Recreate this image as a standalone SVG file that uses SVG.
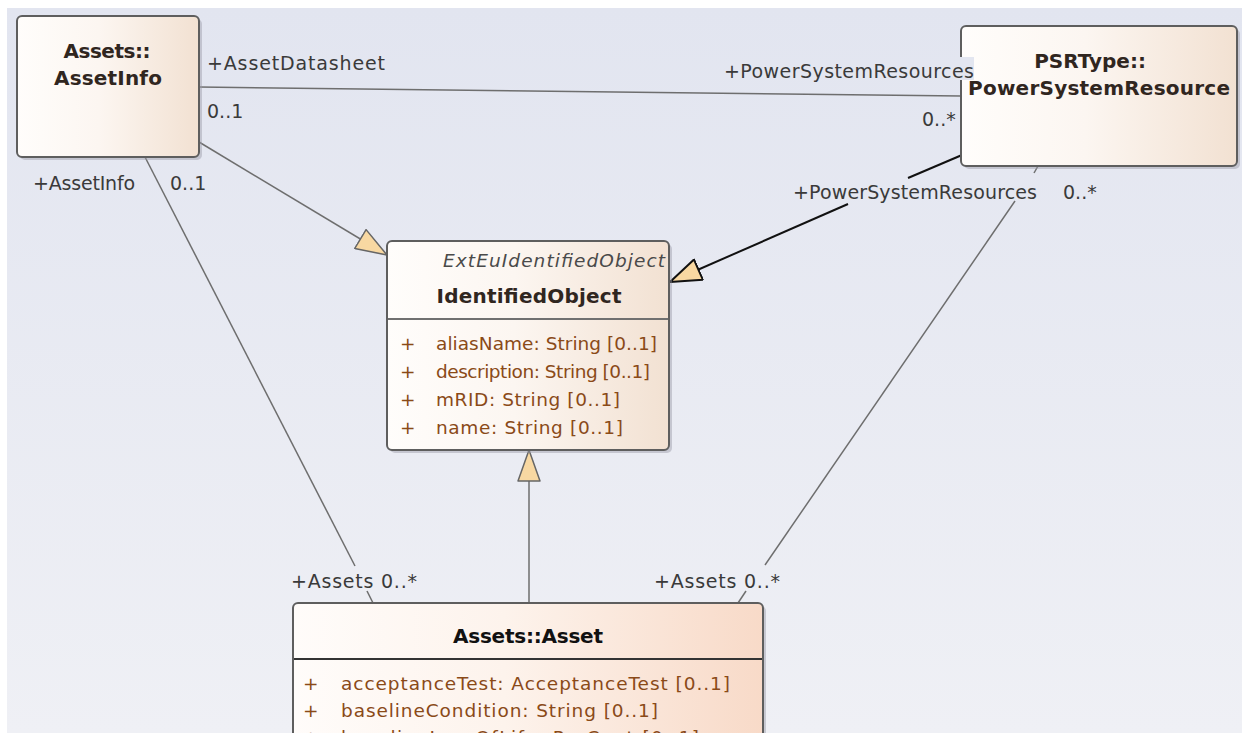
<svg xmlns="http://www.w3.org/2000/svg" width="1242" height="733" viewBox="0 0 1242 733">
  <style>
    .title { font-family: "DejaVu Sans", "Noto Sans", sans-serif; font-weight: bold; font-size: 20px; fill: #30261f; text-anchor: middle; }
    .attr { font-family: "DejaVu Sans", "Noto Sans", sans-serif; font-size: 18.5px; fill: #8a4a18; }
    .lbl { font-family: "DejaVu Sans", "Noto Sans", sans-serif; font-size: 19px; fill: #3a3a3a; }
    .assoc { stroke: #6e6e6e; stroke-width: 1.5; fill: none; }
    .box { stroke: #5e5e5e; stroke-width: 2; }
    .shadow { fill: #9a9aa6; opacity: 0.45; }
  </style>
  <defs>
    <linearGradient id="bg" x1="0" y1="0" x2="0" y2="1">
      <stop offset="0" stop-color="#e2e5f0"/>
      <stop offset="1" stop-color="#eff0f5"/>
    </linearGradient>
    <linearGradient id="nodeFill" x1="0" y1="0" x2="1" y2="0">
      <stop offset="0" stop-color="#fffdfb"/>
      <stop offset="0.45" stop-color="#fcf6f1"/>
      <stop offset="1" stop-color="#f2e1d2"/>
    </linearGradient>
    <linearGradient id="assetFill" x1="0" y1="0" x2="1" y2="0">
      <stop offset="0" stop-color="#fffcfa"/>
      <stop offset="0.45" stop-color="#fdf3ec"/>
      <stop offset="1" stop-color="#f8dac8"/>
    </linearGradient>
    <marker id="genGray" viewBox="0 0 32 24" refX="32" refY="12" markerWidth="32" markerHeight="24" orient="auto" markerUnits="userSpaceOnUse">
      <path d="M32,12 L1,1 L1,23 Z" fill="#f8d8a2" stroke="#666" stroke-width="1.5" stroke-linejoin="round"/>
    </marker>
    <marker id="genBlack" viewBox="0 0 32 24" refX="32" refY="12" markerWidth="32" markerHeight="24" orient="auto" markerUnits="userSpaceOnUse">
      <path d="M32,12 L1,1 L1,23 Z" fill="#f8d8a2" stroke="#111" stroke-width="2" stroke-linejoin="round"/>
    </marker>
  </defs>

  <rect x="0" y="0" width="1242" height="733" fill="#ffffff"/>
  <rect x="7" y="8" width="1235" height="725" fill="url(#bg)"/>

  <g id="connectors">
    <!-- AssetInfo - PowerSystemResource association -->
    <line class="assoc" x1="199" y1="87" x2="961" y2="96"/>
    <!-- AssetInfo generalization to IdentifiedObject -->
    <line class="assoc" x1="199" y1="142" x2="387" y2="255" marker-end="url(#genGray)"/>
    <!-- PowerSystemResource generalization to IdentifiedObject -->
    <line x1="962" y1="155" x2="908" y2="178" stroke="#111" stroke-width="2"/>
    <line x1="848" y1="204" x2="670" y2="282" stroke="#111" stroke-width="2" marker-end="url(#genBlack)"/>
    <!-- Asset generalization to IdentifiedObject -->
    <line class="assoc" x1="529" y1="603" x2="529" y2="450" marker-end="url(#genGray)"/>
    <!-- AssetInfo - Asset association -->
    <line class="assoc" x1="145" y1="157" x2="355" y2="566"/>
    <line class="assoc" x1="367" y1="591" x2="373" y2="603"/>
    <!-- PowerSystemResource - Asset association -->
    <line class="assoc" x1="1038" y1="166" x2="1034" y2="173"/>
    <line class="assoc" x1="1015" y1="201" x2="765" y2="565"/>
    <line class="assoc" x1="746" y1="591" x2="738" y2="603"/>
  </g>

  <g id="node-assetinfo">
    <rect class="shadow" x="20" y="19" width="182" height="141" rx="5"/>
    <rect class="box" x="17" y="16" width="182" height="141" rx="5" fill="url(#nodeFill)"/>
    <text class="title" x="107" y="58" textLength="87">Assets::</text>
    <text class="title" x="108" y="85" textLength="108">AssetInfo</text>
  </g>

  <g id="node-psr">
    <rect class="shadow" x="964" y="29" width="276" height="140" rx="5"/>
    <rect class="box" x="961" y="26" width="276" height="140" rx="5" fill="url(#nodeFill)"/>
    <text class="title" x="1090" y="68">PSRType::</text>
    <text class="title" x="1099" y="95" textLength="262">PowerSystemResource</text>
  </g>

  <g id="node-identifiedobject">
    <rect class="shadow" x="390" y="244" width="282" height="209" rx="5"/>
    <rect class="box" x="387" y="241" width="282" height="209" rx="5" fill="url(#nodeFill)" stroke="#707070"/>
    <text x="665" y="267" text-anchor="end" textLength="222" font-family="DejaVu Sans, Noto Sans, sans-serif" font-style="italic" font-size="18.5" fill="#4a4a4a">ExtEuIdentifiedObject</text>
    <text class="title" x="529" y="303" textLength="185">IdentifiedObject</text>
    <line x1="388" y1="319" x2="668" y2="319" stroke="#707070" stroke-width="2"/>
    <text class="attr" x="400" y="350">+</text><text class="attr" x="436" y="350" textLength="221">aliasName: String [0..1]</text>
    <text class="attr" x="400" y="378">+</text><text class="attr" x="436" y="378" textLength="214">description: String [0..1]</text>
    <text class="attr" x="400" y="406">+</text><text class="attr" x="436" y="406" textLength="184">mRID: String [0..1]</text>
    <text class="attr" x="400" y="434">+</text><text class="attr" x="436" y="434" textLength="187">name: String [0..1]</text>
  </g>

  <g id="node-asset">
    <rect class="shadow" x="296" y="606" width="470" height="140" rx="5"/>
    <rect class="box" x="293" y="603" width="470" height="150" rx="5" fill="url(#assetFill)" stroke="#222"/>
    <text class="title" x="528" y="643" textLength="150" style="fill:#111">Assets::Asset</text>
    <line x1="294" y1="659" x2="762" y2="659" stroke="#333" stroke-width="2"/>
    <text class="attr" x="303" y="690">+</text><text class="attr" x="341" y="690" textLength="389">acceptanceTest: AcceptanceTest [0..1]</text>
    <text class="attr" x="303" y="717">+</text><text class="attr" x="341" y="717" textLength="317">baselineCondition: String [0..1]</text>
    <text class="attr" x="303" y="744">+</text><text class="attr" x="341" y="744" textLength="358">baselineLossOfLife: PerCent [0..1]</text>
  </g>

  <g id="connector-labels">
    <text class="lbl" x="207" y="70" textLength="178">+AssetDatasheet</text>
    <text class="lbl" x="207" y="118">0..1</text>
    <rect x="956" y="57" width="18" height="23" fill="#e3e6f0"/>
    <text class="lbl" x="724" y="78" textLength="250">+PowerSystemResources</text>
    <text class="lbl" x="922" y="126">0..*</text>
    <text class="lbl" x="33" y="190" textLength="102">+AssetInfo</text>
    <text class="lbl" x="170" y="190">0..1</text>
    <text class="lbl" x="793" y="199" textLength="244">+PowerSystemResources</text>
    <text class="lbl" x="1063" y="199">0..*</text>
    <text class="lbl" x="291" y="588" textLength="126">+Assets 0..*</text>
    <text class="lbl" x="654" y="588" textLength="126">+Assets 0..*</text>
  </g>
</svg>
